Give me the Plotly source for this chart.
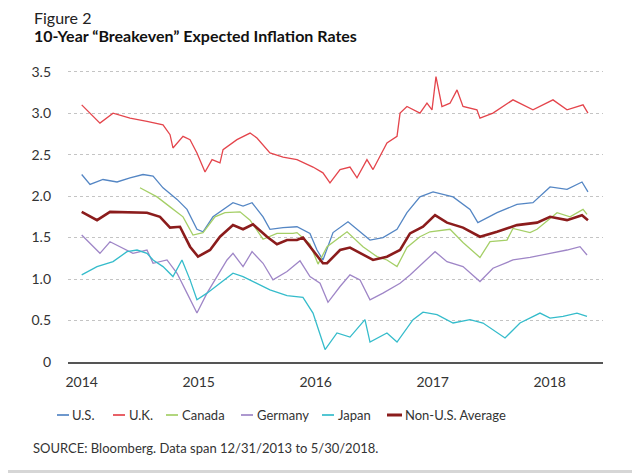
import plotly.graph_objects as go

# ---- data (decimal years, percent) ----
us_t = [2014.000, 2014.071, 2014.182, 2014.302, 2014.413, 2014.524, 2014.610, 2014.695, 2014.815, 2014.900,
        2014.985, 2015.037, 2015.122, 2015.208, 2015.293, 2015.379, 2015.456, 2015.550, 2015.609, 2015.721,
        2015.840, 2015.951, 2016.011, 2016.062, 2016.148, 2016.276, 2016.353, 2016.464, 2016.575, 2016.695,
        2016.780, 2016.891, 2017.003, 2017.174, 2017.319, 2017.386, 2017.550, 2017.720, 2017.857, 2018.003,
        2018.148, 2018.276, 2018.327]
us_v = [2.26, 2.14, 2.20, 2.17, 2.22, 2.26, 2.24, 2.10, 1.96, 1.84,
        1.60, 1.57, 1.75, 1.84, 1.92, 1.88, 1.92, 1.75, 1.60, 1.62,
        1.63, 1.55, 1.35, 1.23, 1.56, 1.69, 1.60, 1.47, 1.50, 1.60,
        1.80, 1.99, 2.05, 1.99, 1.84, 1.68, 1.80, 1.90, 1.92, 2.11,
        2.08, 2.17, 2.05]

uk_t = [2014.000, 2014.156, 2014.268, 2014.413, 2014.558, 2014.695, 2014.755, 2014.780, 2014.866, 2014.926,
        2014.985, 2015.054, 2015.114, 2015.182, 2015.208, 2015.327, 2015.439, 2015.498, 2015.609, 2015.721,
        2015.840, 2015.977, 2016.062, 2016.122, 2016.208, 2016.293, 2016.353, 2016.438, 2016.490, 2016.609,
        2016.695, 2016.721, 2016.780, 2016.891, 2016.951, 2016.994, 2017.028, 2017.079, 2017.148, 2017.208,
        2017.259, 2017.378, 2017.404, 2017.515, 2017.686, 2017.857, 2018.028, 2018.148, 2018.285, 2018.327]
uk_v = [3.10, 2.88, 3.00, 2.94, 2.90, 2.86, 2.74, 2.58, 2.72, 2.68,
        2.52, 2.29, 2.44, 2.40, 2.56, 2.68, 2.76, 2.70, 2.52, 2.47,
        2.44, 2.35, 2.28, 2.16, 2.32, 2.35, 2.22, 2.44, 2.32, 2.64,
        2.72, 3.00, 3.08, 3.00, 3.12, 3.04, 3.44, 3.08, 3.12, 3.28,
        3.08, 3.04, 2.94, 3.00, 3.16, 3.04, 3.16, 3.04, 3.10, 3.00]

ca_t = [2014.498, 2014.644, 2014.755, 2014.866, 2014.951, 2015.037, 2015.139, 2015.225, 2015.353, 2015.439,
        2015.550, 2015.669, 2015.806, 2015.840, 2015.951, 2016.020, 2016.097, 2016.268, 2016.404, 2016.524,
        2016.609, 2016.695, 2016.780, 2016.891, 2016.977, 2017.148, 2017.259, 2017.404, 2017.490, 2017.635,
        2017.686, 2017.832, 2017.892, 2018.063, 2018.174, 2018.285, 2018.319]
ca_v = [2.10, 1.99, 1.87, 1.75, 1.53, 1.56, 1.75, 1.80, 1.81, 1.71,
        1.48, 1.55, 1.55, 1.56, 1.42, 1.18, 1.39, 1.57, 1.39, 1.27,
        1.23, 1.15, 1.38, 1.51, 1.57, 1.60, 1.44, 1.26, 1.45, 1.47,
        1.61, 1.56, 1.60, 1.80, 1.75, 1.84, 1.78]

de_t = [2014.000, 2014.156, 2014.242, 2014.327, 2014.438, 2014.558, 2014.610, 2014.729, 2014.815, 2014.900,
        2014.985, 2015.071, 2015.156, 2015.242, 2015.293, 2015.379, 2015.456, 2015.550, 2015.635, 2015.755,
        2015.866, 2015.951, 2016.037, 2016.105, 2016.208, 2016.293, 2016.379, 2016.464, 2016.575, 2016.721,
        2016.806, 2016.917, 2017.020, 2017.122, 2017.259, 2017.404, 2017.515, 2017.686, 2017.832, 2018.003,
        2018.148, 2018.259, 2018.319]
de_v = [1.53, 1.31, 1.45, 1.39, 1.31, 1.35, 1.19, 1.23, 1.07, 0.83,
        0.59, 0.83, 1.03, 1.23, 1.31, 1.15, 1.33, 1.19, 0.99, 1.09,
        1.22, 1.03, 0.95, 0.72, 0.91, 1.05, 0.99, 0.75, 0.83, 0.95,
        1.05, 1.19, 1.33, 1.21, 1.15, 0.97, 1.13, 1.23, 1.26, 1.31,
        1.35, 1.39, 1.29]

jp_t = [2014.000, 2014.131, 2014.268, 2014.387, 2014.473, 2014.558, 2014.610, 2014.695, 2014.780, 2014.857,
        2014.926, 2014.985, 2015.071, 2015.182, 2015.293, 2015.379, 2015.498, 2015.609, 2015.755, 2015.891,
        2015.977, 2016.037, 2016.080, 2016.182, 2016.293, 2016.421, 2016.464, 2016.609, 2016.695, 2016.832,
        2016.917, 2017.037, 2017.174, 2017.319, 2017.430, 2017.618, 2017.746, 2017.917, 2018.003, 2018.114,
        2018.233, 2018.319]
jp_v = [1.05, 1.15, 1.21, 1.33, 1.35, 1.31, 1.23, 1.15, 1.03, 1.23,
        0.99, 0.75, 0.83, 0.95, 1.07, 1.03, 0.95, 0.87, 0.80, 0.78,
        0.59, 0.33, 0.15, 0.35, 0.30, 0.51, 0.24, 0.35, 0.24, 0.51,
        0.60, 0.57, 0.47, 0.51, 0.47, 0.29, 0.47, 0.59, 0.53, 0.55,
        0.59, 0.55]

avg_t = [2014.000, 2014.131, 2014.242, 2014.413, 2014.558, 2014.669, 2014.755, 2014.840, 2014.926, 2014.994,
         2015.097, 2015.182, 2015.293, 2015.379, 2015.464, 2015.584, 2015.669, 2015.755, 2015.840, 2015.891,
         2015.951, 2016.011, 2016.062, 2016.097, 2016.208, 2016.293, 2016.404, 2016.490, 2016.609, 2016.721,
         2016.806, 2016.917, 2017.020, 2017.122, 2017.259, 2017.404, 2017.550, 2017.720, 2017.892, 2018.003,
         2018.148, 2018.276, 2018.327]
avg_v = [1.81, 1.71, 1.81, 1.80, 1.80, 1.75, 1.62, 1.63, 1.39, 1.27,
         1.35, 1.51, 1.65, 1.60, 1.66, 1.51, 1.42, 1.47, 1.47, 1.50,
         1.39, 1.27, 1.19, 1.19, 1.35, 1.38, 1.29, 1.23, 1.27, 1.35,
         1.55, 1.63, 1.77, 1.68, 1.62, 1.51, 1.57, 1.65, 1.68, 1.75,
         1.71, 1.77, 1.71]

names = ["U.S.", "U.K.", "Canada", "Germany", "Japan", "Non-U.S. Average"]
colors = ["#5486c4", "#e4454c", "#a5cf67", "#9f86c7", "#35bccb", "#8b1c1c"]
widths = [1.3, 1.3, 1.3, 1.3, 1.3, 2.6]
series = [(us_t, us_v), (uk_t, uk_v), (ca_t, ca_v), (de_t, de_v), (jp_t, jp_v), (avg_t, avg_v)]

year_ticks = [2014, 2015, 2016, 2017, 2018]
y_ticks = [0, 0.5, 1.0, 1.5, 2.0, 2.5, 3.0, 3.5]
y_labels = ["0", "0.5", "1.0", "1.5", "2.0", "2.5", "3.0", "3.5"]

# ---- layout geometry (page pixels; the page body adds an 8px offset) ----
OFF = 8
W, H = 640 - OFF, 473 - OFF
L, R, T, B = 68, 603, 70, 362          # plot area in page pixels
PW, PH = R - L, B - T
def px(x):
    return (x - L) / PW
def py(y):
    return (B - y) / PH

FONT = "Lato"
TXT = "#333333"

fig = go.Figure()
order = [1, 0, 2, 3, 4, 5]
for i in order:
    t, v = series[i]
    fig.add_trace(go.Scatter(x=t, y=v, mode="lines", name=names[i],
                             line=dict(color=colors[i], width=widths[i]),
                             showlegend=False, hoverinfo="skip"))

shapes = []
annotations = []
# manual legend
leg = [(57, 69, 70), (113, 125, 127), (166, 178, 180), (241, 253, 255), (322, 334, 336), (387, 402, 403)]
for i, (x0, x1, xt) in enumerate(leg):
    shapes.append(dict(type="line", xref="paper", yref="paper", x0=px(x0), x1=px(x1),
                       y0=py(415), y1=py(415), line=dict(color=colors[i], width=widths[i] + 0.4)))
    annotations.append(dict(text=names[i], xref="paper", yref="paper", x=px(xt), y=py(415),
                            xanchor="left", yanchor="middle", showarrow=False,
                            font=dict(family=FONT, size=13, color=TXT)))

annotations += [
    dict(text="Figure 2", xref="paper", yref="paper", x=px(32), y=py(17), xanchor="left",
         yanchor="middle", showarrow=False, font=dict(family=FONT, size=16, color="#222")),
    dict(text="<b>10-Year \u201cBreakeven\u201d Expected Inflation Rates</b>", xref="paper", yref="paper",
         x=px(32), y=py(36), xanchor="left", yanchor="middle", showarrow=False,
         font=dict(family=FONT, size=16, color="#111")),
    dict(text="SOURCE: Bloomberg. Data span 12/31/2013 to 5/30/2018.", xref="paper", yref="paper",
         x=px(31), y=py(448), xanchor="left", yanchor="middle", showarrow=False,
         font=dict(family=FONT, size=13, color=TXT)),
]
# thin grey band at the bottom edge
shapes.append(dict(type="rect", xref="paper", yref="paper", x0=px(0), x1=px(W + 20), y0=py(470), y1=py(480),
                   fillcolor="#d6d6d6", line=dict(width=0), layer="below"))

fig.update_layout(
    width=W, height=H,
    margin=dict(l=L - OFF, r=640 - R, t=T - OFF, b=473 - B, pad=0),
    paper_bgcolor="white", plot_bgcolor="white",
    showlegend=False,
    shapes=shapes, annotations=annotations,
    xaxis=dict(range=[2014 + (L - 81.7) / 117, 2014 + (R - 81.7) / 117],
               tickvals=year_ticks, ticktext=[str(y) for y in year_ticks],
               showgrid=False, zeroline=False, showline=True, linecolor="#555555", linewidth=1.5,
               ticks="", ticklabelstandoff=6,
               tickfont=dict(family=FONT, size=14, color=TXT)),
    yaxis=dict(range=[0, 3.52], tickvals=y_ticks, ticktext=y_labels,
               showgrid=True, gridcolor="#c4c4c4", griddash="dot", gridwidth=1,
               zeroline=False, showline=False, ticks="", ticklabelstandoff=16,
               tickfont=dict(family=FONT, size=14, color=TXT)),
)

fig.write_html("out.html")
